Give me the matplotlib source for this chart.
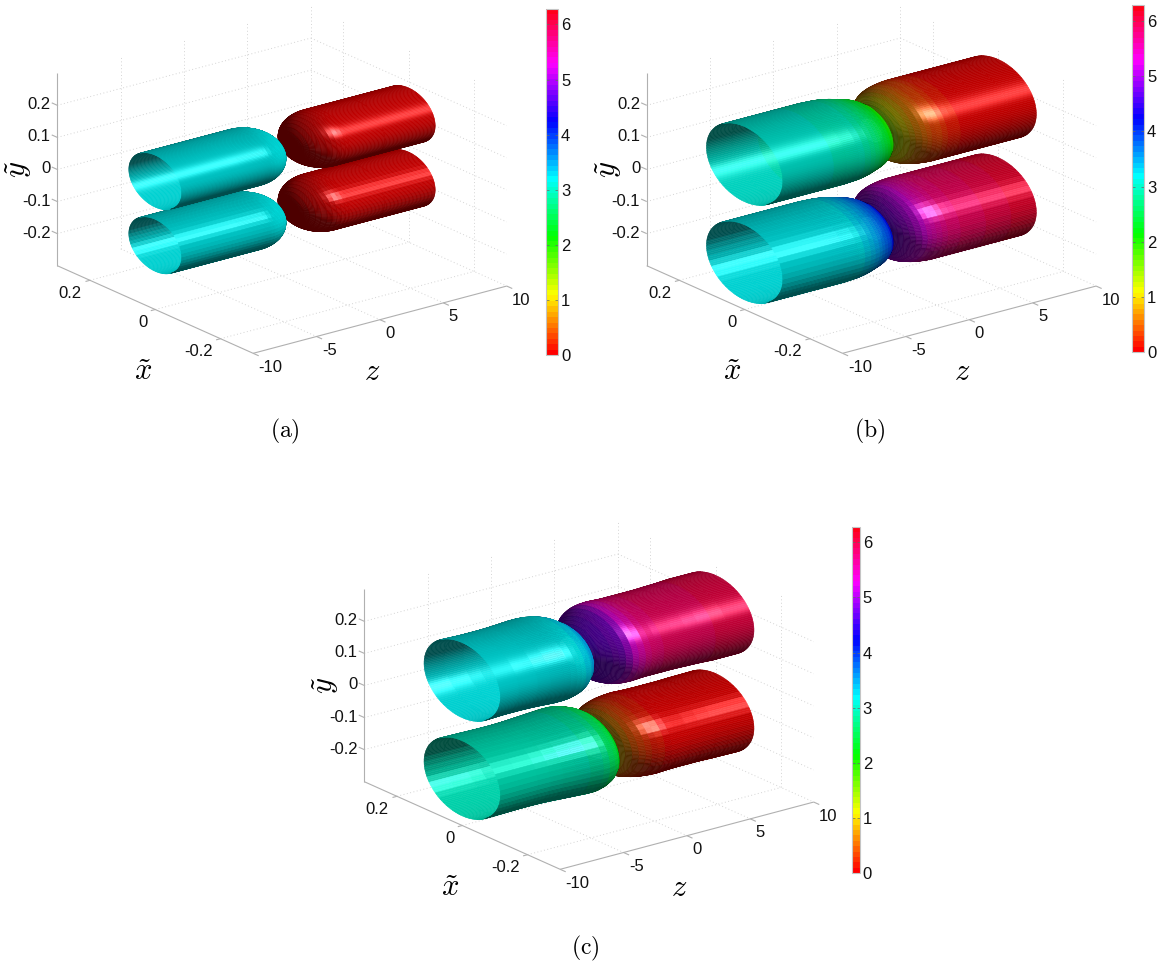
import numpy as np
import matplotlib
matplotlib.use('Agg')
import matplotlib.pyplot as plt
from matplotlib.cm import ScalarMappable
from matplotlib.colors import Normalize
from mpl_toolkits.mplot3d import proj3d

plt.rcParams['font.family'] = 'Liberation Sans'
plt.rcParams['mathtext.fontset'] = 'cm'

# ------------------------- axis ticks -------------------------
z_ticks = [-10, -5, 0, 5, 10]
z_tick_labels = ['-10', '-5', '0', '5', '10']
x_ticks = [0.2, 0.0, -0.2]
x_tick_labels = ['0.2', '0', '-0.2']
y_ticks = [0.2, 0.1, 0.0, -0.1, -0.2]
y_tick_labels = ['0.2', '0.1', '0', '-0.1', '-0.2']
cbar_ticks = [0, 1, 2, 3, 4, 5, 6]
PHASE_MAX = 2 * np.pi

# ------------------------- panel (a) -------------------------
a_left_z  = [-10, -6, -3.2, -2.93, -2.63, -2.33, -2.03, -1.73, -1.43, -1.18, -0.93, -0.73, -0.58, -0.48, -0.43]
a_right_z = [0.43, 0.48, 0.58, 0.73, 0.93, 1.18, 1.43, 1.73, 2.03, 2.33, 2.63, 2.93, 3.2, 6, 10]
a_left_r  = [.081, .081, .081, .081, .0804, .0786, .0756, .0711, .0648, .0578, .0486, .0385, .0276, .0161, 0.0]
a_right_r = [0.0, .0161, .0276, .0385, .0486, .0578, .0648, .0711, .0756, .0786, .0804, .081, .081, .081, .081]
a_left_phi = [3.2] * 15
a_right_phi = [0.0] * 15
a_y_centers = [0.1, -0.1]

# ------------------------- panel (b) -------------------------
b_left_z  = [-10, -8, -6, -5, -4, -3.5, -3, -2.6, -2.2, -1.9, -1.6, -1.3, -1, -0.75, -0.5, -0.3, -0.15, 0]
b_right_z = [0, 0.15, 0.3, 0.5, 0.75, 1, 1.3, 1.6, 1.9, 2.2, 2.6, 3, 3.5, 4, 5, 6, 8, 10]
b_left_r  = [.117, .117, .117, .117, .117, .116, .115, .113, .110, .107, .104, .101, .097, .092, .086, .074, .060, .035]
b_right_r = [.055, .063, .071, .080, .090, .098, .105, .109, .112, .114, .116, .117, .117, .117, .117, .117, .117, .117]
b_up_left_phi   = [3.05, 3.05, 3.04, 3.03, 3.0, 2.95, 2.88, 2.78, 2.67, 2.57, 2.47, 2.34, 2.2, 2.08, 1.95, 1.85, 1.75, 1.6]
b_up_right_phi  = [1.6, 1.45, 1.3, 1.1, 0.9, 0.75, 0.6, 0.5, 0.42, 0.35, 0.27, 0.2, 0.13, 0.08, 0.03, 0.0, 0.0, 0.0]
b_low_left_phi  = [3.2, 3.2, 3.2, 3.2, 3.22, 3.25, 3.3, 3.4, 3.5, 3.6, 3.7, 3.8, 3.95, 4.05, 4.2, 4.35, 4.5, 4.65]
b_low_right_phi = [4.65, 4.75, 4.85, 4.95, 5.05, 5.15, 5.25, 5.35, 5.45, 5.55, 5.65, 5.75, 5.85, 5.9, 5.95, 6.0, 6.1, 6.2]
bc_y_centers = [0.153, -0.153]

# ------------------------- panel (c) -------------------------
c_up_left_z   = [-10, -8.5, -7, -6, -5, -4.5, -4, -3.6, -3.2, -2.9, -2.6, -2.3, -2, -1.8, -1.6, -1.45, -1.3]
c_up_left_r   = [.117, .115, .115, .116, .118, .119, .119, .118, .115, .112, .107, .099, .092, .084, .074, .060, .040]
c_up_left_phi = [3.2, 3.2, 3.2, 3.2, 3.2, 3.2, 3.2, 3.22, 3.25, 3.3, 3.35, 3.45, 3.55, 3.65, 3.8, 3.95, 4.2]
c_up_right_z   = [-1.3, -1.15, -0.95, -0.7, -0.4, -0.1, 0.2, 0.6, 1, 1.5, 2, 2.5, 3, 4, 5, 6, 7, 8, 10]
c_up_right_r   = [.060, .066, .073, .081, .090, .098, .105, .111, .114, .115, .114, .113, .113, .113, .113, .114, .115, .117, .117]
c_up_right_phi = [4.6, 4.65, 4.7, 4.75, 4.8, 4.85, 4.95, 5.2, 5.5, 5.65, 5.75, 5.85, 5.88, 5.92, 5.95, 5.97, 6.0, 6.02, 6.05]
c_low_left_z   = [-10, -8.5, -7, -6, -5, -4, -3, -2, -1.5, -1, -0.6, -0.3, 0, 0.2, 0.35]
c_low_left_r   = [.117, .116, .115, .115, .116, .118, .120, .122, .122, .118, .112, .104, .090, .070, .045]
c_low_left_phi = [3.0, 3.0, 3.0, 3.0, 3.0, 2.98, 2.93, 2.82, 2.72, 2.55, 2.4, 2.25, 2.1, 1.9, 1.7]
c_low_right_z   = [0.35, 0.5, 0.7, 1, 1.3, 1.7, 2.1, 2.5, 3, 3.5, 4, 5, 6, 7, 8, 10]
c_low_right_r   = [.055, .072, .084, .094, .101, .107, .111, .114, .116, .117, .116, .115, .115, .115, .116, .117]
c_low_right_phi = [1.2, 0.9, 0.7, 0.5, 0.4, 0.3, 0.22, 0.15, 0.1, 0.05, 0.02, 0.0, 0.0, 0.0, 0.0, 0.0]

# ------------------------- style -------------------------
W, H = 1162, 965
ELEV, AZIM = 20.15, -127.6
BOX = (320.0, 321.0, 205.0)
NTHETA = 145
cmap64 = plt.get_cmap('hsv', 64)
norm = Normalize(0, PHASE_MAX)
LIGHT = np.array([0.32, -0.30, 0.90])
LIGHT = LIGHT / np.linalg.norm(LIGHT)
DIFFUSE = np.array([0.45, -0.55, 0.60])
DIFFUSE = DIFFUSE / np.linalg.norm(DIFFUSE)
KA, KD, KS, PEXP = 0.30, 0.55, 0.60, 20
GRID = '#d4d4d4'
AXC = '#b0b0b0'

e, a = np.radians(ELEV), np.radians(AZIM)
VIEW = np.array([np.cos(e) * np.cos(a), np.cos(e) * np.sin(a), np.sin(e)])

fig = plt.figure(figsize=(W / 100, H / 100), dpi=100, facecolor='white')


def data_px(ax, z, x, y):
    xs, ys, _ = proj3d.proj_transform(z, x, y, ax.get_proj())
    p = ax.transData.transform((xs, ys))
    return p[0], H - p[1]


def fit_axes(off):
    """Place a 3D axes so its box corners land on the reference's corners."""
    L = np.array([57.3 + off[0], 265.7 + off[1]])
    R = np.array([506.7 + off[0], 286.0 + off[1]])
    s = 760.0
    ax = fig.add_axes([(L[0] + R[0]) / 2 / W - s / 2 / W, 0.5 - s / 2 / H, s / W, s / H],
                      projection='3d', proj_type='ortho', computed_zorder=False)
    ax.view_init(elev=ELEV, azim=AZIM)
    ax.set_xlim(-10, 10)
    ax.set_ylim(-0.3, 0.3)
    ax.set_zlim(-0.3, 0.3)
    ax.set_axis_off()
    ax.patch.set_alpha(0)
    zoom = 1.0
    ax.set_box_aspect(BOX, zoom=zoom)
    for _ in range(4):
        ax.apply_aspect()
        pl = np.array(data_px(ax, -10, 0.3, -0.3))
        pr = np.array(data_px(ax, 10, -0.3, -0.3))
        zoom *= np.hypot(*(R - L)) / np.hypot(*(pr - pl))
        ax.set_box_aspect(BOX, zoom=zoom)
    ax.apply_aspect()
    pl = np.array(data_px(ax, -10, 0.3, -0.3))
    d = L - pl
    pos = ax.get_position()
    ax.set_position([pos.x0 + d[0] / W, pos.y0 - d[1] / H, pos.width, pos.height])
    ax.apply_aspect()
    return ax


def tube(ax, zs, rs, phis, yc, zorder, bands=None, inner=False):
    """Draw one lobe from its stations: the inside wall first (only the open
    left lobes show it), then the outside wall."""
    zs = np.asarray(zs, float)
    rs = np.asarray(rs, float)
    phis = np.asarray(phis, float)
    theta = np.linspace(0, 2 * np.pi, NTHETA)
    X = np.repeat(zs[:, None], NTHETA, axis=1)
    Y = rs[:, None] * np.cos(theta)[None, :]
    Z = yc + rs[:, None] * np.sin(theta)[None, :]

    tc = 0.5 * (theta[:-1] + theta[1:])
    if bands:
        dq = 2 * np.pi / bands
        tq = (np.floor(tc / dq) + 0.5) * dq
    else:
        tq = tc
    slope = np.diff(rs) / np.diff(zs)
    slope = np.convolve(np.pad(slope, 1, mode='edge'), [0.25, 0.5, 0.25], mode='valid')
    sx = BOX[0] / 20.0
    sy = BOX[1] / 0.6
    sz = BOX[2] / 0.6

    def normals(t):
        nz = np.repeat((-slope / sx)[:, None], NTHETA - 1, axis=1)
        nx = np.repeat((np.cos(t) / sy)[None, :], len(zs) - 1, axis=0)
        ny = np.repeat((np.sin(t) / sz)[None, :], len(zs) - 1, axis=0)
        n = np.stack([nz, nx, ny], axis=-1)
        return n / np.linalg.norm(n, axis=-1, keepdims=True)

    facing = (normals(tc) @ VIEW) >= -0.02     # facets of the outside wall turned to the viewer
    n = normals(tq)
    n[(n @ VIEW) < 0] *= -1
    nl = n @ LIGHT
    refl = 2 * nl[..., None] * n - LIGHT
    spec = np.clip(refl @ VIEW, 0, 1) ** PEXP * (nl > 0)
    base = cmap64(norm(0.5 * (phis[:-1] + phis[1:])))[:, None, :3]

    def draw(mask, zo, light):
        nd = np.clip(n @ light, 0, 1)
        rgb = np.clip(base * (KA + KD * nd)[..., None] + KS * spec[..., None], 0, 1)
        col = np.zeros((len(zs), NTHETA, 4))
        col[:-1, :-1, :3] = rgb
        col[:-1, :-1, 3] = mask.astype(float)
        ax.plot_surface(X, Y, Z, facecolors=col, rstride=1, cstride=1, shade=False,
                        linewidth=0.35, antialiased=True, zorder=zo)

    if inner:
        draw(~facing, zorder, LIGHT)
    draw(facing, zorder + 0.5, DIFFUSE)


def box_lines(ax):
    gkw = dict(color=GRID, lw=0.7, ls=(0, (1, 2.5)), zorder=1)
    for yv in y_ticks:
        ax.plot([-10, 10], [0.3, 0.3], [yv, yv], **gkw)
        ax.plot([10, 10], [0.3, -0.3], [yv, yv], **gkw)
    for zv in z_ticks[1:]:
        ax.plot([zv, zv], [0.3, 0.3], [-0.3, 0.3], **gkw)
        ax.plot([zv, zv], [0.3, -0.3], [-0.3, -0.3], **gkw)
    for xv in x_ticks:
        ax.plot([10, 10], [xv, xv], [-0.3, 0.3], **gkw)
        ax.plot([-10, 10], [xv, xv], [-0.3, -0.3], **gkw)
    akw = dict(color=AXC, lw=0.8, zorder=1.5, solid_capstyle='butt')
    ax.plot([-10, -10], [0.3, 0.3], [-0.3, 0.3], **akw)
    ax.plot([-10, -10], [0.3, -0.3], [-0.3, -0.3], **akw)
    ax.plot([-10, 10], [-0.3, -0.3], [-0.3, -0.3], **akw)
    for yv in y_ticks:
        ax.plot([-10, -10], [0.3, 0.317], [yv, yv], **akw)
    for xv in x_ticks:
        ax.plot([-10, -10.35], [xv, xv], [-0.3, -0.3], **akw)
    for zv in z_ticks:
        ax.plot([zv, zv], [-0.3, -0.317], [-0.3, -0.3], **akw)


def ftext(x, y, s, **kw):
    fig.text(x / W, 1 - y / H, s, **kw)


def annotate_panel(ax, off, caption, cap_xy):
    for yv, lab in zip(y_ticks, y_tick_labels):
        px, py = data_px(ax, -10, 0.3, yv)
        ftext(px - 6.5, py - 0.5, lab, ha='right', va='center', fontsize=12, color='#111111')
    for xv, lab in zip(x_ticks, x_tick_labels):
        px, py = data_px(ax, -10, xv, -0.3)
        ftext(px - 8, py + 13, lab, ha='right', va='center', fontsize=12, color='#111111')
    for zv, lab in zip(z_ticks, z_tick_labels):
        px, py = data_px(ax, zv, -0.3, -0.3)
        ftext(px + 5.5, py + 14, lab, ha='left', va='center', fontsize=12, color='#111111')
    ftext(143 + off[0], 372 + off[1], r'$\tilde{x}$', ha='center', va='center', fontsize=22)
    ftext(372.6 + off[0], 372 + off[1], r'$z$', ha='center', va='center', fontsize=22)
    ftext(19 + off[0], 169 + off[1], r'$\tilde{y}$', ha='center', va='center', fontsize=22, rotation=90)
    ftext(cap_xy[0], cap_xy[1], r'$\mathrm{' + caption + '}$', ha='center', va='center', fontsize=17)


def colorbar(x0, x1, y0, y1):
    cax = fig.add_axes([x0 / W, 1 - y1 / H, (x1 - x0) / W, (y1 - y0) / H])
    cb = fig.colorbar(ScalarMappable(norm=norm, cmap=cmap64), cax=cax)
    cb.set_ticks(cbar_ticks)
    cb.set_ticklabels([str(t) for t in cbar_ticks])
    cb.outline.set_edgecolor('#c4c4c4')
    cb.outline.set_linewidth(0.8)
    cax.tick_params(axis='y', direction='in', length=2.5, width=0.5, color='#666666',
                    left=True, right=True, labelsize=12, pad=2, labelcolor='#111111')


# ------------------------- panels -------------------------
off_a, off_b, off_c = (0.0, 0.0), (589.4, 0.0), (307.0, 516.0)
LOW_BANDS = 48

ax_a = fit_axes(off_a)
box_lines(ax_a)
tube(ax_a, a_right_z, a_right_r, a_right_phi, a_y_centers[1], 2, bands=LOW_BANDS)
tube(ax_a, a_right_z, a_right_r, a_right_phi, a_y_centers[0], 3)
tube(ax_a, a_left_z, a_left_r, a_left_phi, a_y_centers[1], 4, bands=LOW_BANDS, inner=True)
tube(ax_a, a_left_z, a_left_r, a_left_phi, a_y_centers[0], 5, inner=True)
annotate_panel(ax_a, off_a, '(a)', (285, 431))
colorbar(546, 558.3, 8.8, 355)

ax_b = fit_axes(off_b)
box_lines(ax_b)
tube(ax_b, b_right_z, b_right_r, b_low_right_phi, bc_y_centers[1], 2, bands=LOW_BANDS)
tube(ax_b, b_right_z, b_right_r, b_up_right_phi, bc_y_centers[0], 3)
tube(ax_b, b_left_z, b_left_r, b_low_left_phi, bc_y_centers[1], 4, bands=LOW_BANDS, inner=True)
tube(ax_b, b_left_z, b_left_r, b_up_left_phi, bc_y_centers[0], 5, inner=True)
annotate_panel(ax_b, off_b, '(b)', (870, 431))
colorbar(1132.3, 1144.3, 5.3, 352.3)

ax_c = fit_axes(off_c)
box_lines(ax_c)
tube(ax_c, c_low_right_z, c_low_right_r, c_low_right_phi, bc_y_centers[1], 2, bands=LOW_BANDS)
tube(ax_c, c_up_right_z, c_up_right_r, c_up_right_phi, bc_y_centers[0], 3)
tube(ax_c, c_low_left_z, c_low_left_r, c_low_left_phi, bc_y_centers[1], 4, bands=LOW_BANDS, inner=True)
tube(ax_c, c_up_left_z, c_up_left_r, c_up_left_phi, bc_y_centers[0], 5, inner=True)
annotate_panel(ax_c, off_c, '(c)', (585, 948))
colorbar(851.7, 860, 526.7, 873.3)

fig.savefig('out.png', dpi=100)
